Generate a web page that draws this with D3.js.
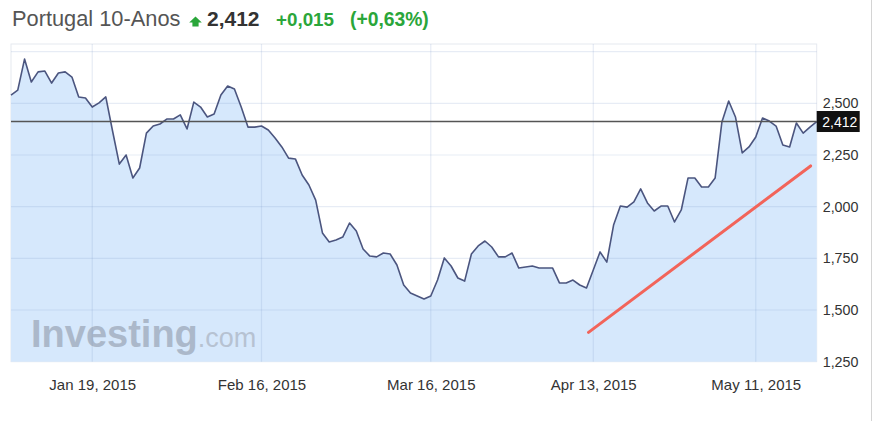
<!DOCTYPE html>
<html>
<head>
<meta charset="utf-8">
<script src="https://cdn.jsdelivr.net/npm/d3@7"></script>
<style>
  html, body { margin: 0; padding: 0; background: #fff; }
  svg { display: block; font-family: "Liberation Sans", Arial, Helvetica, sans-serif; }
</style>
</head>
<body>
<svg id="chart" width="880" height="421"></svg>
<script>
// ---- data (yield, %), one value per trading session ----
const values = [
  2.540, 2.564, 2.714, 2.603, 2.652, 2.656, 2.598, 2.647, 2.652, 2.627,
  2.531, 2.526, 2.482, 2.502, 2.531, 2.366, 2.206, 2.250, 2.139, 2.187,
  2.356, 2.390, 2.400, 2.424, 2.424, 2.444, 2.376, 2.506, 2.482, 2.434,
  2.448, 2.540, 2.584, 2.569, 2.482, 2.385, 2.385, 2.390, 2.371, 2.332,
  2.289, 2.235, 2.231, 2.153, 2.105, 2.032, 1.873, 1.829, 1.839, 1.853,
  1.921, 1.882, 1.795, 1.761, 1.757, 1.776, 1.771, 1.718, 1.621, 1.582,
  1.568, 1.553, 1.568, 1.645, 1.752, 1.713, 1.655, 1.640, 1.771, 1.810,
  1.834, 1.805, 1.757, 1.757, 1.776, 1.703, 1.708, 1.713, 1.703, 1.703,
  1.703, 1.631, 1.631, 1.645, 1.621, 1.607, 1.694, 1.781, 1.732, 1.911,
  2.003, 1.998, 2.023, 2.086, 2.018, 1.979, 2.003, 2.003, 1.926, 1.984,
  2.139, 2.139, 2.095, 2.095, 2.139, 2.410, 2.511, 2.434, 2.260, 2.289,
  2.337, 2.429, 2.414, 2.390, 2.298, 2.289, 2.405, 2.356, 2.385, 2.412
];
const tickIndex  = [12, 37, 62, 86, 110];
const tickLabels = ["Jan 19, 2015", "Feb 16, 2015", "Mar 16, 2015", "Apr 13, 2015", "May 11, 2015"];
const yTickValues = [1.25, 1.5, 1.75, 2.0, 2.25, 2.5];
const yGridValues = [1.5, 1.75, 2.0, 2.25, 2.5, 2.75];
const yDomain = [1.25, 2.787];
const titleName = "Portugal 10-Anos";
const lastValue = 2.412;
const change = 0.015;
const changePct = 0.63;
// hand-drawn trend annotation: [session index, yield]
const trendIdx = [85.3, 118.1];
const trendVal = [1.392, 2.197];

// ---- layout ----
const W = 880, H = 421;
const plot = { left: 11, right: 816.7, top: 44, bottom: 361.7 };

const svg = d3.select("#chart");
const x = d3.scaleLinear().domain([0, values.length - 1]).range([plot.left, plot.right]);
const y = d3.scaleLinear().domain(yDomain).range([plot.bottom, plot.top]);

const fmt = v => d3.format(".3f")(v).replace(".", ",");

// outer right border line
svg.append("line").attr("x1", 871.5).attr("x2", 871.5).attr("y1", 0).attr("y2", H)
  .attr("stroke", "#d4d4d4").attr("stroke-width", 1);

// plot background border
svg.append("rect")
  .attr("x", plot.left).attr("y", plot.top)
  .attr("width", plot.right - plot.left).attr("height", plot.bottom - plot.top)
  .attr("fill", "#fff").attr("stroke", "#e6e9f0").attr("stroke-width", 1);

// area
const area = d3.area()
  .x((d, i) => x(i)).y0(plot.bottom).y1(d => y(d));
svg.append("path").datum(values)
  .attr("d", area).attr("fill", "#d6e8fc");

// watermark
const wm = svg.append("text").attr("x", 31).attr("y", 347)
  .attr("fill", "#abb8ca");
wm.append("tspan").attr("font-size", 38).attr("font-weight", "bold").text("Investing");
wm.append("tspan").attr("font-size", 27).attr("fill", "#b6c2d2").text(".com");

// gridlines
const grid = svg.append("g").attr("stroke", "rgba(110,140,195,0.17)").attr("stroke-width", 1.2);
grid.selectAll("line.h").data(yGridValues).join("line")
  .attr("x1", plot.left).attr("x2", plot.right)
  .attr("y1", d => y(d)).attr("y2", d => y(d));
grid.selectAll("line.v").data(tickIndex).join("line")
  .attr("y1", plot.top).attr("y2", plot.bottom)
  .attr("x1", d => x(d)).attr("x2", d => x(d));

// price line
const line = d3.line().x((d, i) => x(i)).y(d => y(d));
svg.append("path").datum(values)
  .attr("d", line).attr("fill", "none")
  .attr("stroke", "#4b557f").attr("stroke-width", 1.6).attr("stroke-linejoin", "round");

// current value line
svg.append("line")
  .attr("x1", plot.left).attr("x2", plot.right)
  .attr("y1", y(lastValue)).attr("y2", y(lastValue))
  .attr("stroke", "#555").attr("stroke-width", 1.5);

// trend annotation
svg.append("line")
  .attr("x1", x(trendIdx[0])).attr("y1", y(trendVal[0]))
  .attr("x2", x(trendIdx[1])).attr("y2", y(trendVal[1]))
  .attr("stroke", "#f2645a").attr("stroke-width", 3).attr("stroke-linecap", "round");

// y axis (right)
const yAxis = d3.axisRight(y).tickValues(yTickValues).tickFormat(fmt).tickSize(0).tickPadding(0);
const ya = svg.append("g").attr("transform", `translate(${plot.right + 6},0)`).call(yAxis);
ya.select(".domain").remove();
ya.selectAll("text").attr("font-size", 14.3).attr("fill", "#333")
  .attr("font-family", "Liberation Sans, Arial, sans-serif");

// current value box
const boxG = svg.append("g").attr("transform", `translate(${plot.right},${y(lastValue)})`);
boxG.append("rect").attr("x", 0).attr("y", -10.5).attr("width", 43).attr("height", 21).attr("fill", "#111");
boxG.append("text").attr("x", 5.5).attr("y", 5).attr("fill", "#fff").attr("font-size", 14).text(fmt(lastValue));

// x axis
const xAxis = d3.axisBottom(x).tickValues(tickIndex).tickFormat((d, i) => tickLabels[i]).tickSize(0).tickPadding(0);
const xa = svg.append("g").attr("transform", `translate(0,${plot.bottom + 28})`).call(xAxis);
xa.select(".domain").remove();
xa.selectAll("text").attr("font-size", 15).attr("fill", "#333").attr("dy", 0)
  .attr("font-family", "Liberation Sans, Arial, sans-serif");

// header
svg.append("text").attr("x", 12).attr("y", 26).attr("font-size", 21.8).attr("fill", "#555")
  .text(titleName);
svg.append("path")
  .attr("d", "M195.5,16.5 L201.8,22.6 L198.6,22.6 L198.6,26.5 L192.4,26.5 L192.4,22.6 L189.2,22.6 Z")
  .attr("fill", "#2aa63a");
svg.append("text").attr("x", 207).attr("y", 26).attr("font-size", 21).attr("font-weight", "bold")
  .attr("fill", "#333").text(fmt(lastValue));
svg.append("text").attr("x", 276).attr("y", 26).attr("font-size", 18.8).attr("font-weight", "bold")
  .attr("fill", "#2aa63a").text("+" + fmt(change));
svg.append("text").attr("x", 350).attr("y", 26).attr("font-size", 19.3).attr("font-weight", "bold")
  .attr("fill", "#2aa63a").text("(+" + d3.format(".2f")(changePct).replace(".", ",") + "%)");
</script>
</body>
</html>
